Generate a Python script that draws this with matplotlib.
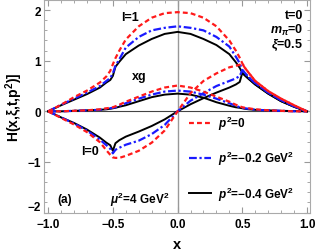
import matplotlib
matplotlib.use("Agg")
import matplotlib.pyplot as plt
from matplotlib.ticker import MultipleLocator

plt.rcParams['font.family'] = ['Liberation Sans', 'DejaVu Sans']
plt.rcParams['font.weight'] = 'bold'
plt.rcParams['mathtext.fontset'] = 'custom'
plt.rcParams['mathtext.rm'] = 'Liberation Sans:bold'
plt.rcParams['mathtext.it'] = 'Liberation Sans:italic:bold'
plt.rcParams['mathtext.bf'] = 'Liberation Sans:bold'

# shared x grid
x = [-1.0, -0.9, -0.8, -0.7, -0.6, -0.55, -0.52, -0.5, -0.48, -0.45, -0.4, -0.3, -0.2, -0.1,
     0.0, 0.1, 0.2, 0.3, 0.4, 0.45, 0.48, 0.5, 0.52, 0.55, 0.6, 0.7, 0.8, 0.9, 1.0]

# l=1
l1_p0 = [0, 0.13, 0.28, 0.41, 0.57, 0.69, 0.80, 0.93, 1.05, 1.20, 1.42, 1.68, 1.85, 1.94,
         1.96, 1.94, 1.85, 1.68, 1.40, 1.20, 1.06, 0.95, 0.86, 0.76, 0.60, 0.40, 0.25, 0.12, 0]
l1_p2 = [0, 0.13, 0.25, 0.37, 0.50, 0.60, 0.66, 0.75, 0.90, 1.03, 1.26, 1.47, 1.60, 1.65,
         1.68, 1.65, 1.60, 1.47, 1.28, 1.08, 0.95, 0.82, 0.76, 0.67, 0.56, 0.37, 0.22, 0.10, 0]
l1_p4 = [0, 0.12, 0.23, 0.34, 0.47, 0.57, 0.62, 0.70, 0.88, 0.98, 1.13, 1.30, 1.43, 1.53,
         1.57, 1.53, 1.43, 1.31, 1.13, 0.97, 0.86, 0.76, 0.71, 0.64, 0.53, 0.35, 0.20, 0.09, 0]

# l=0
l0_p0 = [0, -0.13, -0.26, -0.41, -0.61, -0.77, -0.86, -0.91, -0.92, -0.92, -0.88, -0.78, -0.62, -0.38,
         0.0, 0.36, 0.60, 0.75, 0.87, 0.90, 0.92, 0.94, 0.86, 0.76, 0.60, 0.40, 0.25, 0.12, 0]
l0_p2 = [0, -0.12, -0.24, -0.38, -0.56, -0.67, -0.74, -0.83, -0.76, -0.72, -0.66, -0.58, -0.45, -0.27,
         0.0, 0.21, 0.36, 0.50, 0.60, 0.65, 0.70, 0.81, 0.76, 0.67, 0.56, 0.37, 0.22, 0.10, 0]
l0_p4 = [0, -0.12, -0.23, -0.36, -0.52, -0.62, -0.67, -0.78, -0.63, -0.57, -0.50, -0.40, -0.29, -0.16,
         0.0, 0.14, 0.26, 0.37, 0.47, 0.53, 0.58, 0.76, 0.71, 0.64, 0.53, 0.35, 0.20, 0.09, 0]

# xg
xg_p0 = [0, 0.0, 0.01, 0.02, 0.04, 0.06, 0.07, 0.08, 0.10, 0.13, 0.19, 0.29, 0.39, 0.47,
         0.51, 0.47, 0.39, 0.29, 0.19, 0.13, 0.10, 0.08, 0.07, 0.06, 0.04, 0.02, 0.01, 0.0, 0]
xg_p2 = [0, 0.0, 0.01, 0.02, 0.03, 0.05, 0.06, 0.07, 0.08, 0.11, 0.16, 0.25, 0.33, 0.39,
         0.41, 0.39, 0.33, 0.25, 0.16, 0.11, 0.08, 0.07, 0.06, 0.05, 0.03, 0.02, 0.01, 0.0, 0]
xg_p4 = [0, 0.0, 0.01, 0.02, 0.03, 0.04, 0.05, 0.06, 0.07, 0.09, 0.12, 0.20, 0.28, 0.33,
         0.35, 0.33, 0.27, 0.18, 0.11, 0.08, 0.07, 0.06, 0.05, 0.04, 0.03, 0.02, 0.01, 0.005, 0]

labels = [r'$p^2$=0', r'$p^2$=$-$0.2 GeV$^2$', r'$p^2$=$-$0.4 GeV$^2$']
colors = ['#ff1a1a', '#1a1aff', 'black']
styles = [(0, (2.2, 1.4)), (0, (3.5, 1.2, 1.0, 1.2)), '-']
widths = [1.6, 1.6, 1.4]

fig = plt.figure(figsize=(3.16, 2.53), dpi=100)
ax = fig.add_axes([0.138, 0.156, 0.843, 0.84])

ax.axvline(0, color='#999999', lw=1.0, zorder=1)
ax.axhline(0, color='#444444', lw=0.8, zorder=1)

groups = [(l1_p0, l1_p2, l1_p4), (l0_p0, l0_p2, l0_p4), (xg_p0, xg_p2, xg_p4)]
for g in groups:
    for i, y in enumerate(g):
        ax.plot(x, y, color=colors[i], ls=styles[i], lw=widths[i],
                label=labels[i] if g is groups[0] else None, zorder=3 - i * 0.1)

ax.set_xlim(-1.035, 1.023)
ax.set_ylim(-2.0, 2.2)
ax.xaxis.set_major_locator(MultipleLocator(0.5))
ax.xaxis.set_minor_locator(MultipleLocator(0.1))
ax.yaxis.set_major_locator(MultipleLocator(1))
ax.yaxis.set_minor_locator(MultipleLocator(0.2))
ax.tick_params(which='both', direction='in', top=True, right=True, color='#999999',
               labelsize=8.5)
ax.tick_params(axis='x', pad=4)
ax.tick_params(axis='y', pad=2)
ax.tick_params(which='major', length=4)
ax.tick_params(which='minor', length=2)
for s in ax.spines.values():
    s.set_color('#aaaaaa')
ax.set_xticklabels(['', '\u22121.0', '\u22120.5', '0.0', '0.5', '1.0'])
ax.set_yticks([-2, -1, 0, 1, 2])
ax.set_yticklabels(['\u22122', '\u22121', '0', '1', '2'])
ax.get_yticklabels()[0].set_va('bottom')

ax.set_xlabel('x', fontsize=10.5, fontweight='bold', labelpad=5)
ax.set_ylabel('H(x,ξ,t,p$^2$)]', fontsize=10, fontweight='bold', labelpad=2)

ax.text(-0.37, 1.86, 'l=1', fontsize=9, ha='center', va='center')
ax.text(-0.3, 0.69, 'xg', fontsize=9, ha='center', va='center')
ax.text(-0.68, -0.79, 'l=0', fontsize=9, ha='center', va='center')
ax.text(0.97, 1.9, 't=0', fontsize=9, ha='right', va='center')
ax.text(0.97, 1.61, r'$m_\pi$=0', fontsize=9, ha='right', va='center')
ax.text(0.97, 1.33, r'$\xi$=0.5', fontsize=9, ha='right', va='center')
ax.text(-0.52, -1.74, r'$\mu^2$=4 GeV$^2$', fontsize=8.5, ha='left', va='center')
ax.text(-0.93, -1.74, '(a)', fontsize=8.5, ha='left', va='center')

ax.legend(loc='upper left', bbox_to_anchor=(0.545, 0.465), frameon=False, fontsize=8.5,
          handlelength=1.9, handletextpad=0.6, labelspacing=1.45, borderpad=0, borderaxespad=0)

fig.savefig('out.png', dpi=100)
